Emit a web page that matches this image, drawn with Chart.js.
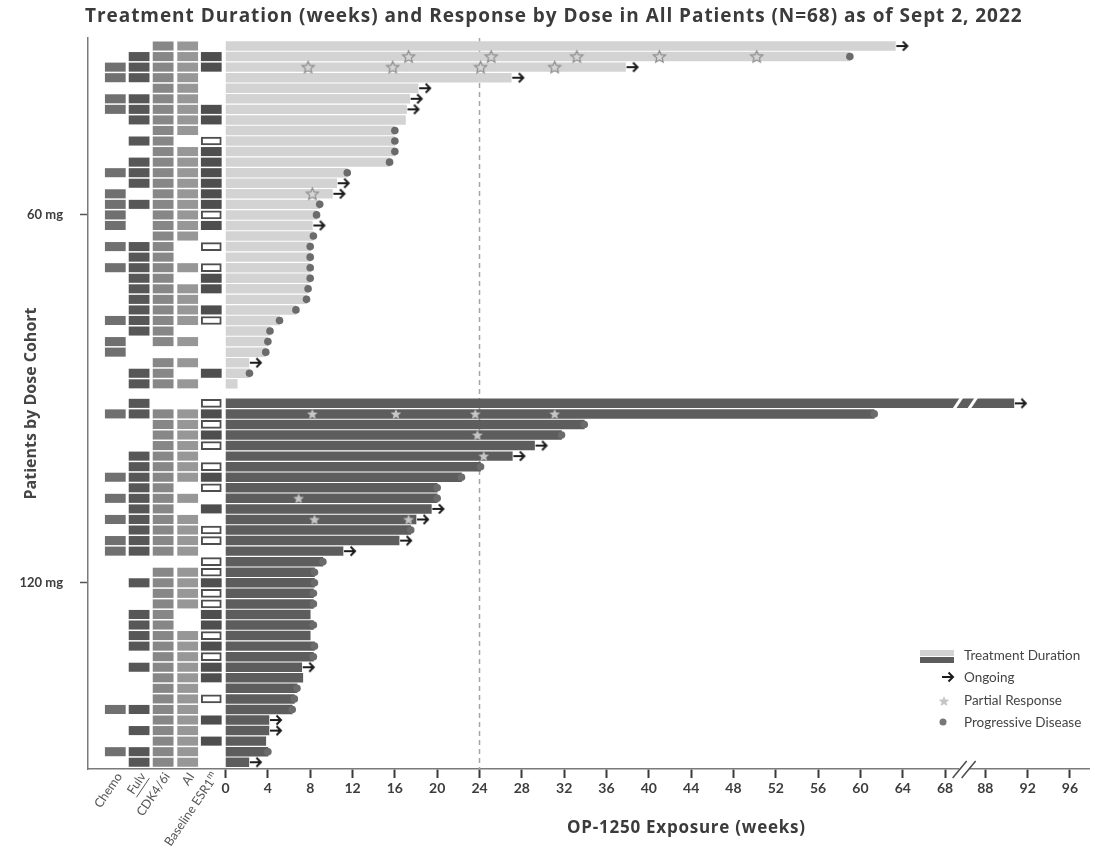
<!DOCTYPE html>
<html>
<head>
<meta charset="utf-8">
<script src="https://cdn.jsdelivr.net/npm/chart.js@4/dist/chart.umd.min.js"></script>
<style>
  html, body { margin: 0; padding: 0; background: #fff; }
</style>
</head>
<body>
<canvas id="swimmer" width="1095" height="849"></canvas>
<script>
// ---- data (top row of each cohort first) ----
// weeks on OP-1250
const dur60 = [63.3, 59.0, 37.8, 27.0, 18.2, 17.4, 17.1, 17.0, 16.0, 16.0, 16.0, 15.5, 11.5, 10.5, 10.1, 8.9, 8.6,
  8.2, 8.3, 8.0, 8.0, 8.0, 8.0, 7.8, 7.65, 6.65, 5.1, 4.2, 4.0, 3.8, 2.2, 2.26, 1.1];
const dur120 = [90.7, 61.3, 33.9, 31.75, 29.2, 27.1, 24.1, 22.3, 20.0, 20.0, 19.45, 18.0, 17.5, 16.4, 11.1, 9.2,
  8.4, 8.4, 8.3, 8.3, 8.0, 8.3, 8.0, 8.4, 8.3, 7.2, 7.3, 6.75, 6.5, 6.3, 4.1, 4.1, 3.8, 4.0, 2.2];

// end of bar: O = ongoing, P = progressive disease, '' = nothing
const end60 = ['O','P','O','O','O','O','O','','P','P','P','P','P','O','O','P','P','O','P','P','P','P','P','P','P',
  'P','P','P','P','P','O','P',''];
const end120 = ['O','P','P','P','O','O','P','P','P','P','O','O','P','O','O','P','P','P','P','P','','P','','P','P',
  'O','','P','P','P','O','O','','P','O'];

// partial response, weeks
const pr60 = [[], [17.3, 25.1, 33.2, 41.0, 50.2], [7.8, 15.8, 24.1, 31.1], [], [], [], [], [], [], [], [], [], [], [],
  [8.2], [], [], [], [], [], [], [], [], [], [], [], [], [], [], [], [], [], []];
const pr120 = [[], [8.2, 16.1, 23.6, 31.1], [], [23.8], [], [24.4], [], [], [], [6.9], [], [8.4, 17.3], [], [], [],
  [], [], [], [], [], [], [], [], [], [], [], [], [], [], [], [], [], [], [], []];

// prior therapy (1 = yes)
const chemo60 = [0,0,1,1,0,1,1,0,0,0,0,0,1,0,1,1,1,1,0,1,0,1,0,0,0,0,1,0,1,1,0,0,0];
const fulv60  = [0,1,1,1,0,1,1,1,0,1,0,1,1,1,0,1,0,0,0,1,1,1,1,1,1,1,1,1,0,0,0,1,1];
const cdk60   = [1,1,1,1,1,1,1,1,1,1,1,1,1,1,1,1,1,1,1,1,1,1,1,1,1,1,1,1,1,0,1,1,1];
const ai60    = [1,1,1,1,1,1,1,1,1,0,1,1,1,1,1,1,1,1,1,0,0,1,0,1,1,1,1,0,1,0,1,0,1];
// baseline ESR1m: 1 = detected, 2 = not detected, 0 = unknown
const esr60   = [0,1,1,0,0,0,1,1,0,2,1,1,1,1,1,1,2,1,0,2,0,2,1,1,0,1,2,0,0,0,0,1,0];

const chemo120 = [0,1,0,0,0,0,0,1,0,1,0,1,0,1,1,0,0,0,0,0,0,0,0,0,0,0,0,0,0,1,0,0,0,1,0];
const fulv120  = [1,1,0,0,0,1,1,1,1,1,1,1,1,1,1,0,0,1,0,0,1,1,1,1,0,1,0,0,0,1,0,1,0,1,1];
const cdk120   = [0,1,1,1,1,1,1,1,1,1,1,1,1,1,1,0,1,1,1,1,1,1,1,1,1,1,1,1,1,1,1,1,1,1,1];
const ai120    = [0,1,1,1,1,1,1,1,0,1,0,1,1,1,1,0,1,1,1,1,0,0,1,1,1,1,1,1,1,1,1,1,1,1,1];
const esr120   = [2,1,2,1,2,0,2,1,2,0,1,0,2,2,0,2,2,1,2,2,1,1,2,1,2,1,1,0,2,0,1,0,1,0,0];

const xTickWeeks = [0, 4, 8, 12, 16, 20, 24, 28, 32, 36, 40, 44, 48, 52, 56, 60, 64, 68, 88, 92, 96];
const cohortLabels = ['60 mg', '120 mg'];
const therapyLabels = ['Chemo', 'Fulv', 'CDK4/6i', 'AI', 'Baseline ESR1'];
const chartTitle = 'Treatment Duration (weeks) and Response by Dose in All Patients (N=68) as of Sept 2, 2022';

// ---- axis break: 88 weeks sits where 71.8 would be ----
const BREAK_AT = 88, BREAK_POS = 71.8;
const sx = w => w >= 80 ? w - (BREAK_AT - BREAK_POS) : w;

const rows60 = dur60.map((d, i) => i);
const rows120 = dur120.map((d, i) => 33.85 + i);
const colX = [-10.42, -8.17, -5.9, -3.58, -1.35];   // therapy columns, left of 0

const FONT = 'Lato, "Open Sans", sans-serif';
const HEAD = '"Open Sans", Lato, sans-serif';

function starImg(r, fill, stroke) {
  const s = Math.ceil(r * 2 + 4);
  const c = document.createElement('canvas');
  c.width = c.height = s;
  const g = c.getContext('2d');
  g.beginPath();
  for (let k = 0; k < 10; k++) {
    const a = -Math.PI / 2 + k * Math.PI / 5;
    const rr = k % 2 ? r * 0.45 : r;
    g.lineTo(s / 2 + rr * Math.cos(a), s / 2 + 0.5 + rr * Math.sin(a));
  }
  g.closePath();
  g.fillStyle = fill;
  g.fill();
  if (stroke) { g.strokeStyle = stroke; g.lineWidth = 1.2; g.stroke(); }
  return c;
}

function arrowImg() {
  const c = document.createElement('canvas');
  c.width = 30; c.height = 12;
  const g = c.getContext('2d');
  g.strokeStyle = '#1c1c1c';
  g.lineWidth = 2;
  g.beginPath();
  g.moveTo(16, 6); g.lineTo(27, 6);
  g.moveTo(22.5, 1.5); g.lineTo(27, 6); g.lineTo(22.5, 10.5);
  g.stroke();
  return c;
}

const arrow = arrowImg();
const starOpen = starImg(6.3, '#d6d6d6', '#8c8c8c');
const starFull = starImg(5.6, '#c6c6c6', null);

function durBars(dur, rows) {
  return dur.map((d, i) => ({ x: [0, sx(d)], y: rows[i] }));
}
function endPts(code) {
  const a = dur60.flatMap((d, i) => end60[i] === code ? [{ x: sx(d), y: rows60[i] }] : []);
  const b = dur120.flatMap((d, i) => end120[i] === code ? [{ x: sx(d), y: rows120[i] }] : []);
  return a.concat(b);
}
function prPts(pr, rows) {
  return pr.flatMap((ws, i) => ws.map(w => ({ x: sx(w), y: rows[i] })));
}
function therapy(f60, f120, col, want) {
  const cell = (f, rows) => f.flatMap((v, i) => v === want ? [{ x: [colX[col] - 0.95, colX[col] + 0.95], y: rows[i] }] : []);
  return cell(f60, rows60).concat(cell(f120, rows120));
}

const barBase = { type: 'bar', grouped: false, barThickness: 8.8, borderWidth: 0, order: 3 };
const cellBase = { type: 'bar', grouped: false, barThickness: 8.4, borderWidth: 0, order: 3 };

const datasets = [
  { ...barBase, label: '60 mg', data: durBars(dur60, rows60), backgroundColor: '#d3d3d3' },
  { ...barBase, label: '120 mg', data: durBars(dur120, rows120), backgroundColor: '#5d5d5d' },
  { ...cellBase, label: 'Chemo', data: therapy(chemo60, chemo120, 0, 1), backgroundColor: '#707070' },
  { ...cellBase, label: 'Fulv', data: therapy(fulv60, fulv120, 1, 1), backgroundColor: '#575757' },
  { ...cellBase, label: 'CDK4/6i', data: therapy(cdk60, cdk120, 2, 1), backgroundColor: '#878787' },
  { ...cellBase, label: 'AI', data: therapy(ai60, ai120, 3, 1), backgroundColor: '#979797' },
  { ...cellBase, label: 'ESR1m', data: therapy(esr60, esr120, 4, 1), backgroundColor: '#4e4e4e' },
  { ...cellBase, label: 'ESR1 wt', data: therapy(esr60, esr120, 4, 2), backgroundColor: '#ffffff',
    borderColor: '#4e4e4e', borderWidth: 2, borderSkipped: false, barThickness: 8 },
  { type: 'scatter', label: 'Progressive Disease', data: endPts('P'), pointStyle: 'circle', pointRadius: 3.8,
    backgroundColor: '#6b6b6b', borderWidth: 0, order: 1 },
  { type: 'scatter', label: 'Ongoing', data: endPts('O'), pointStyle: arrow, pointRadius: 5, order: 0 },
  { type: 'scatter', label: 'PR 60', data: prPts(pr60, rows60), pointStyle: starOpen, pointRadius: 5, order: 0 },
  { type: 'scatter', label: 'PR 120', data: prPts(pr120, rows120), pointStyle: starFull, pointRadius: 5, order: 0 }
];

// text squeezed/stretched to span a given width, like the original slide
function fitText(ctx, text, left, width, y) {
  ctx.letterSpacing = '0px';
  const w = ctx.measureText(text).width;
  const sp = (width - w) / (text.length - 1);
  ctx.letterSpacing = sp.toFixed(2) + 'px';
  ctx.textAlign = 'left';
  ctx.fillText(text, left, y);
  ctx.letterSpacing = '0px';
}

const decor = {
  id: 'decor',
  beforeDatasetsDraw(chart) {
    const { ctx, chartArea, scales } = chart;
    const x = scales.x.getPixelForValue(24);
    ctx.save();
    ctx.strokeStyle = '#a6a6a6';
    ctx.lineWidth = 1.5;
    ctx.setLineDash([5, 4]);
    ctx.beginPath();
    ctx.moveTo(x, chartArea.top);
    ctx.lineTo(x, chartArea.bottom);
    ctx.stroke();
    ctx.restore();
  },
  afterDatasetsDraw(chart) {
    const { ctx, chartArea, scales } = chart;
    const xs = scales.x, ys = scales.y;
    ctx.save();
    // break inside the long 120 mg bar
    const by = ys.getPixelForValue(rows120[0]);
    [69.2, 70.6].forEach(v => {
      const bx = xs.getPixelForValue(v);
      ctx.strokeStyle = '#ffffff';
      ctx.lineWidth = 3;
      ctx.beginPath();
      ctx.moveTo(bx - 4, by + 6);
      ctx.lineTo(bx + 4, by - 6);
      ctx.stroke();
    });
    // break on the x axis
    const ay = chartArea.bottom;
    const ax = xs.getPixelForValue(69.8);
    ctx.fillStyle = '#ffffff';
    ctx.fillRect(ax - 5, ay - 2, 10, 4);
    ctx.strokeStyle = '#4a4a4a';
    ctx.lineWidth = 1.5;
    [-4.5, 4.5].forEach(dx => {
      ctx.beginPath();
      ctx.moveTo(ax + dx - 7, ay + 9);
      ctx.lineTo(ax + dx + 7, ay - 8);
      ctx.stroke();
    });
    // therapy column labels
    ctx.fillStyle = '#555555';
    ctx.textAlign = 'right';
    ctx.textBaseline = 'middle';
    therapyLabels.forEach((t, i) => {
      const px = xs.getPixelForValue(colX[i]) + 4;
      ctx.save();
      ctx.translate(px, ay + 5);
      ctx.rotate(-56 * Math.PI / 180);
      let right = 0;
      if (i === 4) {
        ctx.font = '9px ' + FONT;
        ctx.fillText('m', 0, -4);
        right = -ctx.measureText('m').width;
      }
      ctx.font = '12.5px ' + FONT;
      ctx.fillText(t, right, 0);
      if (i === 1) {
        const w = ctx.measureText(t).width;
        ctx.strokeStyle = '#555555';
        ctx.lineWidth = 0.9;
        ctx.beginPath();
        ctx.moveTo(-w, 7.5);
        ctx.lineTo(0, 7.5);
        ctx.stroke();
      }
      ctx.restore();
    });
    // titles
    ctx.fillStyle = '#3b3b3b';
    ctx.textBaseline = 'middle';
    ctx.font = 'bold 17px ' + HEAD;
    fitText(ctx, 'OP-1250 Exposure (weeks)', 567, 238, 828);
    ctx.font = 'bold 19px ' + HEAD;
    fitText(ctx, chartTitle, 85, 937, 17);
    ctx.restore();
  },
  afterDraw(chart) {
    const { ctx } = chart;
    ctx.save();
    const lx = 920, tx = 964;
    ctx.fillStyle = '#d3d3d3';
    ctx.fillRect(lx, 650, 34, 6);
    ctx.fillStyle = '#5d5d5d';
    ctx.fillRect(lx, 657, 34, 6);
    ctx.drawImage(arrow, 926, 671);
    ctx.drawImage(starFull, 944 - starFull.width / 2, 701 - starFull.height / 2);
    ctx.fillStyle = '#777777';
    ctx.beginPath();
    ctx.arc(943, 722, 3.5, 0, Math.PI * 2);
    ctx.fill();
    ctx.fillStyle = '#444444';
    ctx.font = '13.5px ' + FONT;
    ctx.textAlign = 'left';
    ctx.textBaseline = 'middle';
    ctx.fillText('Treatment Duration', tx, 656);
    ctx.fillText('Ongoing', tx, 678);
    ctx.fillText('Partial Response', tx, 701);
    ctx.fillText('Progressive Disease', tx, 723);
    ctx.restore();
  }
};

new Chart(document.getElementById('swimmer'), {
  type: 'bar',
  data: { datasets },
  plugins: [decor],
  options: {
    responsive: false,
    animation: false,
    events: [],
    indexAxis: 'y',
    devicePixelRatio: 1,
    layout: { padding: { top: 38, right: 2, bottom: 0, left: 0 } },
    plugins: {
      legend: { display: false },
      tooltip: { enabled: false },
      title: { display: false }
    },
    scales: {
      x: {
        type: 'linear',
        min: -13,
        max: 81.6,
        offset: false,
        afterFit: s => { s.height = 80; },
        afterBuildTicks: s => { s.ticks = xTickWeeks.map(w => ({ value: sx(w) })); },
        ticks: {
          autoSkip: false,
          maxRotation: 0,
          padding: 2,
          color: '#3d3d3d',
          font: { family: FONT, size: 14, weight: 'bold' },
          callback: (v, i) => String(xTickWeeks[i])
        },
        grid: { offset: false, drawOnChartArea: false, tickLength: 9, tickWidth: 2, tickColor: '#3a3a3a' },
        border: { color: '#7a7a7a', width: 1.5 }
      },
      y: {
        type: 'linear',
        reverse: true,
        min: -0.76,
        max: 68.49,
        offset: false,
        afterFit: s => { s.width = 88; },
        afterBuildTicks: s => { s.ticks = [{ value: 16 }, { value: rows120[17] }]; },
        ticks: {
          autoSkip: false,
          padding: 17,
          color: '#3d3d3d',
          font: { family: FONT, size: 13, weight: 'bold' },
          callback: (v, i) => cohortLabels[i]
        },
        grid: { offset: false, drawOnChartArea: false, tickLength: 8, tickWidth: 1.5, tickColor: '#555555' },
        border: { color: '#7a7a7a', width: 1.5 },
        title: {
          display: true,
          text: 'Patients by Dose Cohort',
          color: '#454545',
          font: { family: HEAD, size: 16, weight: 'bold' },
          padding: { top: 22, bottom: 0 }
        }
      }
    }
  }
});
</script>
</body>
</html>
